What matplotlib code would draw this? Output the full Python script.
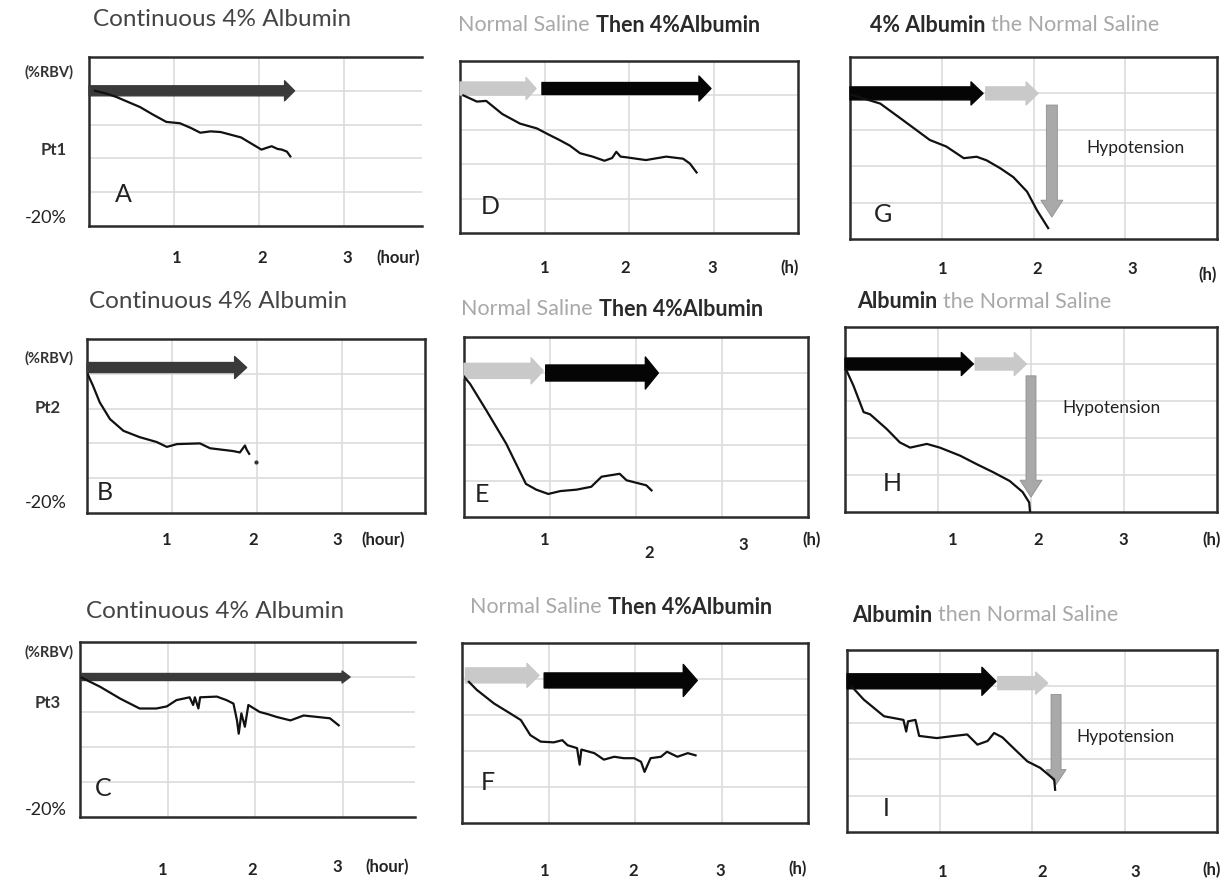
import matplotlib
matplotlib.use("Agg")
import matplotlib.pyplot as plt

plt.rcParams['font.family'] = ['Lato', 'DejaVu Sans']

W, H = 1226, 882

# ---------------- data (hours, %RBV) ----------------
a_t   = [0.07, 0.20, 0.32, 0.45, 0.60, 0.75, 0.91, 1.07, 1.20, 1.31, 1.43, 1.55, 1.67, 1.79, 1.91, 2.03, 2.10,
         2.15, 2.22, 2.27, 2.33, 2.37]
a_rbv = [0.0, -0.4, -0.9, -1.6, -2.4, -3.5, -4.6, -4.8, -5.5, -6.2, -6.0, -6.1, -6.5, -6.9, -7.8, -8.7, -8.4,
         -8.2, -8.6, -8.7, -9.0, -9.7]

b_t   = [0.01, 0.07, 0.15, 0.27, 0.43, 0.62, 0.82, 0.94, 1.06, 1.33, 1.45, 1.72, 1.80, 1.86, 1.88, 1.91]
b_rbv = [-0.1, -1.7, -4.1, -6.5, -8.2, -9.1, -9.8, -10.5, -10.1, -10.0, -10.7, -11.1, -11.3, -10.3, -10.9, -11.5]
b_dot_t, b_dot_rbv = [1.99], [-12.7]

c_t   = [0.02, 0.23, 0.46, 0.68, 0.87, 0.99, 1.10, 1.25, 1.29, 1.31, 1.35, 1.37, 1.56, 1.67, 1.75, 1.79,
         1.81, 1.84, 1.88, 1.92, 2.05, 2.14, 2.24, 2.40, 2.55, 2.70, 2.85, 2.95]
c_rbv = [-0.1, -1.4, -3.1, -4.5, -4.5, -4.2, -3.3, -2.9, -4.0, -2.9, -4.5, -2.9, -2.8, -3.3, -3.8, -6.2,
         -8.1, -5.2, -7.1, -4.0, -5.0, -5.3, -5.7, -6.2, -5.5, -5.7, -5.9, -6.9]

d_t   = [0.04, 0.20, 0.31, 0.50, 0.71, 0.91, 1.05, 1.18, 1.30, 1.42, 1.57, 1.71, 1.80, 1.85, 1.90, 1.97,
         2.20, 2.44, 2.64, 2.72, 2.80]
d_rbv = [0.0, -0.9, -0.8, -2.7, -4.1, -4.8, -5.7, -6.5, -7.3, -8.4, -8.9, -9.5, -9.1, -8.2, -8.9, -9.0,
         -9.4, -8.9, -9.2, -9.9, -11.2]

e_t   = [0.00, 0.07, 0.26, 0.49, 0.72, 0.84, 0.98, 1.12, 1.31, 1.48, 1.60, 1.81, 1.89, 2.12, 2.18]
e_rbv = [-0.5, -1.5, -5.2, -9.8, -15.4, -16.2, -16.8, -16.4, -16.2, -15.8, -14.4, -14.0, -14.9, -15.6, -16.3]

f_t   = [0.08, 0.17, 0.37, 0.56, 0.68, 0.79, 0.91, 1.06, 1.16, 1.22, 1.33, 1.36, 1.38, 1.53, 1.64, 1.76,
         1.87, 1.99, 2.07, 2.11, 2.18, 2.30, 2.37, 2.49, 2.61, 2.70]
f_rbv = [-0.4, -1.5, -3.4, -4.8, -5.7, -7.8, -8.7, -8.8, -8.5, -9.2, -9.6, -11.9, -9.8, -10.3, -11.2, -10.8,
         -11.0, -11.0, -11.5, -12.9, -11.0, -10.8, -10.1, -10.8, -10.3, -10.6]

g_t   = [0.02, 0.33, 0.58, 0.87, 1.05, 1.24, 1.38, 1.49, 1.64, 1.78, 1.93, 2.04, 2.16]
g_rbv = [-0.2, -1.4, -3.7, -6.4, -7.3, -8.9, -8.7, -9.2, -10.3, -11.5, -13.5, -16.1, -18.5]

h_t   = [0.01, 0.09, 0.20, 0.27, 0.45, 0.59, 0.70, 0.88, 1.02, 1.24, 1.41, 1.59, 1.77, 1.91, 1.98, 1.99]
h_rbv = [-0.7, -2.9, -6.5, -6.8, -8.8, -10.6, -11.3, -10.8, -11.3, -12.4, -13.5, -14.6, -15.8, -17.3, -18.7, -20.0]

i_t   = [0.05, 0.18, 0.40, 0.61, 0.64, 0.66, 0.74, 0.78, 0.97, 1.16, 1.30, 1.41, 1.52, 1.59, 1.68, 1.81,
         1.95, 2.09, 2.24, 2.25]
i_rbv = [0.0, -1.8, -4.1, -4.6, -6.2, -4.8, -4.6, -6.8, -7.1, -6.8, -6.6, -8.0, -7.5, -6.4, -7.0, -8.6,
         -10.3, -11.2, -12.8, -14.2]

# infusion periods (start h, end h) and hypotension time (h)
a_albumin = (0.0, 2.42)
b_albumin = (0.0, 1.88)
c_albumin = (0.02, 3.08)
d_saline, d_albumin = (0.0, 0.90), (0.97, 2.97)
e_saline, e_albumin = (0.0, 0.92), (0.95, 2.26)
f_saline, f_albumin = (0.04, 0.89), (0.95, 2.72)
g_albumin, g_saline, g_hypo = (0.0, 1.45), (1.48, 2.05), 2.20
h_albumin, h_saline, h_hypo = (0.0, 1.38), (1.40, 1.95), 2.00
i_albumin, i_saline, i_hypo = (0.0, 1.61), (1.63, 2.17), 2.26

y_ticks = [5, 0, -5, -10, -15, -20]
x_ticks = [1, 2, 3, 4]

# ---------------- helpers ----------------
fig = plt.figure(figsize=(W / 100, H / 100), dpi=100)
fig.patch.set_facecolor('white')

DARK = '#2b2b2b'
LGRAY = '#c9c9c9'
MGRAY = '#a9a9a9'


def px_axes(l, r, t, b, xmax, right_spine=True):
    ax = fig.add_axes([l / W, 1 - b / H, (r - l) / W, (b - t) / H])
    ax.set_xlim(0, xmax)
    ax.set_ylim(-20, 5)
    for xv in x_ticks:
        if xv < xmax - 0.05:
            ax.axvline(xv, color='#dcdcdc', lw=1.2, zorder=0)
    for yv in y_ticks[1:-1]:
        ax.axhline(yv, color='#dcdcdc', lw=1.2, zorder=0)
    ax.set_xticks([])
    ax.set_yticks([])
    for s in ax.spines.values():
        s.set_linewidth(1.8)
        s.set_color(DARK)
    if not right_spine:
        ax.spines['right'].set_visible(False)
    return ax


def harrow(ax, x0, x1, y, color, body, head, hl):
    u = 100 / 72.0  # px per point
    ms = 10 / u     # mutation scale -> 10 px units
    ax.annotate('', xy=(x1, y), xytext=(x0, y),
                arrowprops=dict(arrowstyle=f'simple,head_length={hl/10},head_width={head/10},tail_width={body/10}',
                                color=color, shrinkA=0, shrinkB=0, mutation_scale=ms), zorder=3)


def varrow(ax, x, y0, y1, color=MGRAY, body=10, head=21, hl=16):
    u = 100 / 72.0
    ms = 10 / u
    ax.annotate('', xy=(x, y1), xytext=(x, y0),
                arrowprops=dict(arrowstyle=f'simple,head_length={hl/10},head_width={head/10},tail_width={body/10}',
                                fc=color, ec='#8f8f8f', lw=0.6, shrinkA=0, shrinkB=0, mutation_scale=ms), zorder=3)


def ftext(x, y, s, **kw):
    kw.setdefault('ha', 'center')
    kw.setdefault('va', 'center')
    fig.text(x / W, 1 - y / H, s, **kw)


def curve(ax, t, v):
    ax.plot(t, v, color='#111111', lw=1.6, zorder=4)


def two_color_title(xsplit, y, left, right, left_bold, size=15.5):
    ftext(xsplit - 3, y, left, ha='right', fontsize=size,
          color='#2a2a2a' if left_bold else '#a8a8a8', fontweight='bold' if left_bold else 'normal')
    ftext(xsplit + 3, y, right, ha='left', fontsize=size,
          color='#a8a8a8' if left_bold else '#2a2a2a', fontweight='normal' if left_bold else 'bold')


# ---------------- panels ----------------
axA = px_axes(89, 422, 57, 226, 3.92, right_spine=False)
curve(axA, a_t, a_rbv)
harrow(axA, a_albumin[0], a_albumin[1], 0.0, '#3a3a3a', 10, 20, 10)

axB = px_axes(87, 425, 339, 513, 3.98)
curve(axB, b_t, b_rbv)
axB.plot(b_dot_t, b_dot_rbv, 'o', color='#333333', ms=2)
harrow(axB, b_albumin[0], b_albumin[1], 0.9, '#3a3a3a', 10, 22, 12)

axC = px_axes(80, 415, 642, 817, 3.82, right_spine=False)
curve(axC, c_t, c_rbv)
harrow(axC, c_albumin[0], c_albumin[1], 0.0, '#3a3a3a', 7, 12, 8)

axD = px_axes(460, 798, 61, 233, 4.0)
curve(axD, d_t, d_rbv)
harrow(axD, d_saline[0], d_saline[1], 1.0, LGRAY, 13, 22, 10)
harrow(axD, d_albumin[0], d_albumin[1], 1.0, '#050505', 12, 25, 12)

axE = px_axes(464, 808, 337, 517, 4.0)
curve(axE, e_t, e_rbv)
harrow(axE, e_saline[0], e_saline[1], 0.3, LGRAY, 15, 26, 12)
harrow(axE, e_albumin[0], e_albumin[1], 0.0, '#050505', 16, 32, 13)

axF = px_axes(462, 808, 643, 823, 4.0)
curve(axF, f_t, f_rbv)
harrow(axF, f_saline[0], f_saline[1], 0.5, LGRAY, 15, 24, 12)
harrow(axF, f_albumin[0], f_albumin[1], -0.2, '#050505', 15, 32, 14)

axG = px_axes(850, 1217, 57, 239, 4.0)
curve(axG, g_t, g_rbv)
harrow(axG, g_albumin[0], g_albumin[1], 0.0, '#050505', 13, 23, 12)
harrow(axG, g_saline[0], g_saline[1], 0.0, LGRAY, 13, 23, 12)
varrow(axG, g_hypo, -1.6, -17.0, body=11, head=22, hl=17)

axH = px_axes(845, 1217, 327, 512, 4.0)
curve(axH, h_t, h_rbv)
harrow(axH, h_albumin[0], h_albumin[1], 0.0, '#050505', 12, 23, 12)
harrow(axH, h_saline[0], h_saline[1], 0.0, LGRAY, 12, 23, 12)
varrow(axH, h_hypo, -1.6, -18.0, body=10, head=22, hl=17)

axI = px_axes(847, 1217, 650, 832, 4.0)
curve(axI, i_t, i_rbv)
harrow(axI, i_albumin[0], i_albumin[1], 0.7, '#050505', 15, 28, 14)
harrow(axI, i_saline[0], i_saline[1], 0.45, LGRAY, 13, 22, 12)
varrow(axI, i_hypo, -1.1, -13.5, body=10, head=20, hl=15)

# ---------------- titles ----------------
TGRAY = '#444444'
ftext(222, 19, 'Continuous 4% Albumin', fontsize=17.5, color=TGRAY)
ftext(218, 301, 'Continuous 4% Albumin', fontsize=17.5, color=TGRAY)
ftext(215, 612, 'Continuous 4% Albumin', fontsize=17.5, color=TGRAY)

two_color_title(593, 25, 'Normal Saline', 'Then 4%Albumin', False)
two_color_title(596, 309, 'Normal Saline', 'Then 4%Albumin', False)
two_color_title(605, 607, 'Normal Saline', 'Then 4%Albumin', False)

two_color_title(988, 25, '4% Albumin', 'the Normal Saline', True)
two_color_title(940, 302, 'Albumin', 'the Normal Saline', True)
two_color_title(935, 615, 'Albumin', 'then Normal Saline', True)

# ---------------- y annotations ----------------
for k, (yr, yp, y20, px) in enumerate([(72, 150, 218, 54), (358, 408, 503, 48), (652, 703, 810, 48)]):
    ftext(49, yr, '(%RBV)', fontsize=10.5, color='#333333', fontweight='bold')
    ftext(px, yp, f'Pt{k + 1}', fontsize=12, color='#333333', fontweight='bold')
    ftext(46, y20, '-20%', fontsize=13, color='#222222')

# ---------------- panel letters ----------------
for (x, y, s) in [(123, 195, 'A'), (490, 207, 'D'), (883, 215, 'G'),
                  (105, 493, 'B'), (482, 495, 'E'), (892, 483, 'H'),
                  (103, 788, 'C'), (488, 783, 'F'), (886, 808, 'I')]:
    ftext(x, y, s, fontsize=18, color='#222222')

# ---------------- big x labels ----------------
xl = dict(fontsize=12, color='#222222', fontweight='bold')
for row in [
    [(177, 258, '1'), (262, 258, '2'), (347, 258, '3'), (398, 258, '(hour)')],
    [(545, 268, '1'), (625, 268, '2'), (712, 268, '3'), (790, 268, '(h)')],
    [(943, 269, '1'), (1037, 269, '2'), (1132, 269, '3'), (1208, 275, '(h)')],
    [(167, 540, '1'), (253, 540, '2'), (337, 540, '3'), (383, 540, '(hour)')],
    [(545, 540, '1'), (649, 553, '2'), (743, 545, '3'), (812, 540, '(h)')],
    [(953, 540, '1'), (1038, 540, '2'), (1123, 540, '3'), (1212, 540, '(h)')],
    [(163, 870, '1'), (252, 870, '2'), (337, 867, '3'), (387, 867, '(hour)')],
    [(545, 871, '1'), (633, 871, '2'), (720, 871, '3'), (798, 869, '(h)')],
    [(943, 872, '1'), (1042, 872, '2'), (1135, 872, '3'), (1212, 870, '(h)')],
]:
    for (x, y, s) in row:
        ftext(x, y, s, **xl)

# ---------------- hypotension labels ----------------
ftext(1135, 148, 'Hypotension', fontsize=12.5, color='#222222')
ftext(1112, 408, 'Hypotension', fontsize=12.5, color='#222222')
ftext(1125, 737, 'Hypotension', fontsize=12.5, color='#222222')

fig.savefig('out.png', dpi=100, facecolor='white')
